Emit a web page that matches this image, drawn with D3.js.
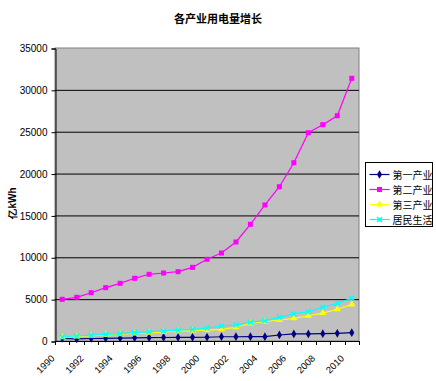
<!DOCTYPE html>
<html>
<head>
<meta charset="utf-8">
<title>各产业用电量增长</title>
<script src="https://d3js.org/d3.v7.min.js"></script>
<style>
body { margin: 0; background: #fff; }
svg text { font-family: "Liberation Sans", Arial, sans-serif; }
.cjk { font-family: "Noto Sans CJK SC", sans-serif; }
</style>
</head>
<body>
<div id="container"></div>
<script>
// ---------------------------- DATA ----------------------------//
var years = d3.range(1990, 2011).map(String);
var seriesNames = ["第一产业", "第二产业", "第三产业", "居民生活"];
var primary = [300, 250, 300, 320, 350, 380, 400, 420, 430, 440, 450, 510, 510, 520, 520, 720, 840, 850, 880, 920, 990];
var secondary = [4980, 5220, 5770, 6370, 6890, 7490, 7970, 8120, 8280, 8800, 9760, 10510, 11830, 13940, 16250, 18430, 21300, 24880, 25840, 26910, 31380];
var tertiary = [450, 550, 640, 730, 810, 900, 980, 1080, 1170, 1250, 1310, 1400, 1640, 2110, 2300, 2510, 2710, 3020, 3340, 3790, 4380];
var residential = [480, 600, 700, 790, 880, 1000, 1100, 1200, 1300, 1400, 1550, 1790, 1910, 2230, 2430, 2830, 3230, 3500, 4030, 4500, 5100];
var yTicks = [0, 5000, 10000, 15000, 20000, 25000, 30000, 35000];

var colors = ["#000080", "#ff00ff", "#ffff00", "#00ffff"];
var markers = ["diamond", "square", "triangle", "cross"];
var slices = [primary, secondary, tertiary, residential].map(function(v, i) {
    return { id: seriesNames[i], color: colors[i], marker: markers[i],
             values: v.map(function(d, j) { return { year: years[j], value: d }; }) };
});

// ---------------------------- SVG -----------------------------//
var W = 436, H = 381;
var plot = { left: 55, right: 359, top: 48, bottom: 341 };

var svg = d3.select("#container").append("svg")
    .attr("width", W).attr("height", H);

var x = d3.scaleBand().domain(years).range([plot.left, plot.right]);
var y = d3.scaleLinear().domain([0, 35000]).range([plot.bottom, plot.top]);

// plot area
svg.append("rect")
    .attr("x", plot.left).attr("y", plot.top)
    .attr("width", plot.right - plot.left).attr("height", plot.bottom - plot.top)
    .attr("fill", "#c0c0c0").attr("stroke", "#808080");

// gridlines
svg.append("g").selectAll("line")
    .data(yTicks.filter(function(d) { return d > 0 && d < 35000; }))
    .enter().append("line")
    .attr("x1", plot.left).attr("x2", plot.right)
    .attr("y1", function(d) { return y(d) + 0.5; })
    .attr("y2", function(d) { return y(d) + 0.5; })
    .attr("stroke", "#000").attr("stroke-width", 1);

// y axis
var yAxis = d3.axisLeft(y).tickValues(yTicks).tickFormat(d3.format("d")).tickSize(4).tickPadding(4);
var gy = svg.append("g")
    .attr("transform", "translate(" + (plot.left + 0.5) + ",0.5)")
    .call(yAxis);
gy.selectAll("text").attr("font-size", 10).attr("fill", "#000")
    .style("font-family", "'Liberation Sans', Arial, sans-serif");
gy.selectAll("line, path").attr("stroke", "#000");

// x axis (category ticks between categories)
var xg = svg.append("g");
xg.append("line")
    .attr("x1", plot.left).attr("x2", plot.right)
    .attr("y1", plot.bottom + 0.5).attr("y2", plot.bottom + 0.5)
    .attr("stroke", "#000");
xg.selectAll("line.tick")
    .data(d3.range(years.length + 1))
    .enter().append("line")
    .attr("class", "tick")
    .attr("x1", function(i) { return Math.round(plot.left + i * x.bandwidth()) + 0.5; })
    .attr("x2", function(i) { return Math.round(plot.left + i * x.bandwidth()) + 0.5; })
    .attr("y1", plot.bottom).attr("y2", plot.bottom + 4)
    .attr("stroke", "#000");
xg.selectAll("text")
    .data(years.filter(function(d, i) { return i % 2 === 0; }))
    .enter().append("text")
    .attr("transform", function(d) {
        return "translate(" + (x(d) + x.bandwidth() / 2 - 7) + "," + (plot.bottom + 18) + ") rotate(-45)";
    })
    .attr("text-anchor", "end")
    .attr("font-size", 9.5)
    .text(function(d) { return d; });

// ---------------------------- LINES ---------------------------//
var line = d3.line()
    .x(function(d) { return x(d.year) + x.bandwidth() / 2; })
    .y(function(d) { return y(d.value); });

function drawMarker(g, type, color, cx, cy) {
    if (type === "diamond") {
        g.append("path").attr("d", d3.symbol(d3.symbolDiamond, 22)())
            .attr("transform", "translate(" + cx + "," + cy + ")").attr("fill", color);
    } else if (type === "square") {
        g.append("rect").attr("x", cx - 2.5).attr("y", cy - 2.5)
            .attr("width", 5).attr("height", 5).attr("fill", color);
    } else if (type === "triangle") {
        g.append("path").attr("d", d3.symbol(d3.symbolTriangle, 22)())
            .attr("transform", "translate(" + cx + "," + cy + ")").attr("fill", color);
    } else {
        g.append("path").attr("d", "M-2.5,-2.5L2.5,2.5M-2.5,2.5L2.5,-2.5")
            .attr("transform", "translate(" + cx + "," + cy + ")")
            .attr("stroke", color).attr("stroke-width", 1.5).attr("fill", "none");
    }
}

var series = svg.selectAll("g.serie")
    .data(slices)
    .enter().append("g").attr("class", "serie");

series.append("path")
    .attr("d", function(d) { return line(d.values); })
    .attr("fill", "none")
    .attr("stroke", function(d) { return d.color; })
    .attr("stroke-width", 1.2);

series.each(function(s) {
    var g = d3.select(this);
    s.values.forEach(function(d) {
        drawMarker(g, s.marker, s.color, x(d.year) + x.bandwidth() / 2, y(d.value));
    });
});

// ---------------------------- TEXT ----------------------------//
svg.append("text")
    .attr("class", "cjk")
    .attr("x", 218).attr("y", 23)
    .attr("text-anchor", "middle")
    .attr("font-size", 11).attr("font-weight", "bold")
    .text("各产业用电量增长");

svg.append("text")
    .attr("transform", "translate(16,203) rotate(-90)")
    .attr("text-anchor", "middle")
    .attr("font-size", 10).attr("font-weight", "bold")
    .text("亿kWh");

// --------------------------- LEGEND ---------------------------//
var legend = svg.append("g").attr("transform", "translate(365.5,162.5)");
legend.append("rect")
    .attr("width", 67).attr("height", 64)
    .attr("fill", "#fff").attr("stroke", "#000");

var items = legend.selectAll("g.item")
    .data(slices)
    .enter().append("g").attr("class", "item")
    .attr("transform", function(d, i) { return "translate(0," + (12 + i * 15) + ")"; });

items.append("line")
    .attr("x1", 4).attr("x2", 24).attr("y1", 0).attr("y2", 0)
    .attr("stroke", function(d) { return d.color; })
    .attr("stroke-width", 1.2);
items.each(function(s) { drawMarker(d3.select(this), s.marker, s.color, 14, 0); });
items.append("text")
    .attr("class", "cjk")
    .attr("x", 27).attr("y", 4)
    .attr("font-size", 10)
    .text(function(d) { return d.id; });
</script>
</body>
</html>
